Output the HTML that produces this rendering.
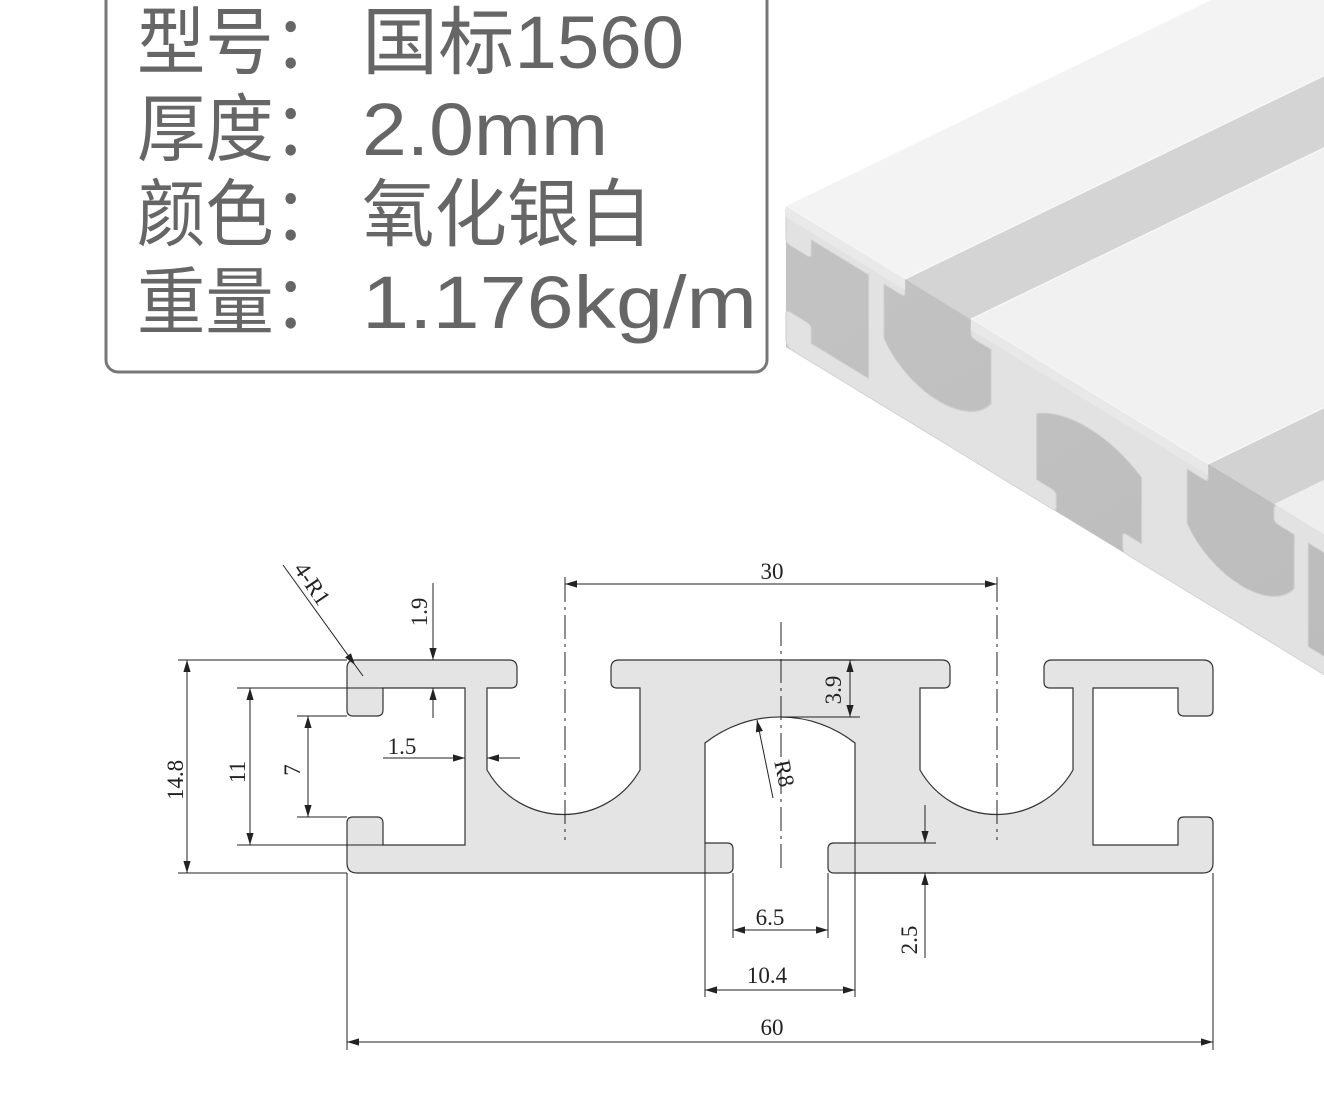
<!DOCTYPE html>
<html><head><meta charset="utf-8"><style>
html,body{margin:0;padding:0;background:#fff;}
svg{display:block;}
</style></head><body>
<svg width="1324" height="1101" viewBox="0 0 1324 1101" xmlns="http://www.w3.org/2000/svg">
<defs>
<path id="prof" d="M347,668 Q347,660 355,660 L509,660 Q517,660 517,668 L517,682 Q517,688 511,688 L487,688 L487,770 A88,88 0 0 0 640,770 L640,688 L617,688 Q611,688 611,682 L611,668 Q611,660 619,660 L942,660 Q950,660 950,668 L950,682 Q950,688 944,688 L920,688 L920,770 A88,88 0 0 0 1073,770 L1073,688 L1050,688 Q1044,688 1044,682 L1044,668 Q1044,660 1052,660 L1203,660 Q1213,660 1213,670 L1213,710 Q1213,716 1207,716 L1184,716 Q1178,716 1178,710 L1178,688 L1093,688 L1093,845 L1178,845 L1178,823 Q1178,817 1184,817 L1207,817 Q1213,817 1213,823 L1213,863 Q1213,873 1203,873 L834,873 Q828,873 828,867 L828,849 Q828,843 834,843 L855,843 L855,743 A121,121 0 0 0 705,743 L705,843 L727,843 Q733,843 733,849 L733,867 Q733,873 727,873 L357,873 Q347,873 347,863 L347,823 Q347,817 353,817 L377,817 Q383,817 383,823 L383,845 L465,845 L465,688 L383,688 L383,710 Q383,716 377,716 L353,716 Q347,716 347,710 Z"/>
<marker id="a" viewBox="0 0 10 10" refX="10" refY="5" markerWidth="12" markerHeight="12" markerUnits="userSpaceOnUse" orient="auto-start-reverse"><path d="M0,2 L10,5 L0,8 Z" fill="#222"/></marker>
<linearGradient id="bg" x1="0" y1="0" x2="1" y2="1">
<stop offset="0" stop-color="#c9c9c9"/><stop offset="1" stop-color="#b4b4b4"/></linearGradient>
</defs>

<!-- text box -->
<rect x="106" y="-20" width="661" height="392" rx="12" fill="#fff" stroke="#777" stroke-width="3"/>
<g font-family="'Liberation Sans','Noto Sans CJK SC',sans-serif" font-size="74" fill="#666">
<text x="137" y="68" textLength="205" lengthAdjust="spacingAndGlyphs">型号：</text>
<text x="362" y="68" textLength="322" lengthAdjust="spacingAndGlyphs">国标1560</text>
<text x="137" y="155" textLength="205" lengthAdjust="spacingAndGlyphs">厚度：</text>
<text x="362" y="155" textLength="246" lengthAdjust="spacingAndGlyphs">2.0mm</text>
<text x="137" y="240" textLength="205" lengthAdjust="spacingAndGlyphs">颜色：</text>
<text x="362" y="240" textLength="290" lengthAdjust="spacingAndGlyphs">氧化银白</text>
<text x="137" y="328" textLength="205" lengthAdjust="spacingAndGlyphs">重量：</text>
<text x="362" y="328" textLength="395" lengthAdjust="spacingAndGlyphs">1.176kg/m</text>
</g>

<!-- 3D render -->
<polygon points="786,206 2286,-521 2892,-11 1392,716 786,347" fill="url(#bg)"/>
<polygon points="905,279 970,319 1970,-166 1905,-206" fill="#d4d4d4"/>
<polygon points="1208,464 1274,504 2274,19 2208,-21" fill="#d2d2d2"/>
<g transform="matrix(0.70,0.427,0,0.66,543.1,-377.8)">
<use href="#prof" fill="#e2e2e2" stroke="#d0d0d0" stroke-width="1.5"/>
</g>
<polygon points="786,206 905,279 1905,-206 1786,-279" fill="#f3f3f3" stroke="#fbfbfb"/>
<polygon points="786,206 905,279 905,290 786,217" fill="#e9e9e9"/>
<polygon points="971,319 1208,464 2208,-21 1971,-166" fill="#f1f1f1" stroke="#fbfbfb"/>
<polygon points="971,319 1208,464 1208,475 971,330" fill="#e8e8e8"/>
<polygon points="1274,504 1392,576 2392,91 2274,19" fill="#eeeeee"/>

<!-- technical drawing -->
<use href="#prof" fill="#e4e4e4" stroke="#333" stroke-width="1.2"/>
<g stroke="#222" stroke-width="1" fill="none">
<g stroke-dasharray="24,5,3,5">
<line x1="565" y1="578" x2="565" y2="840"/>
<line x1="781" y1="622" x2="781" y2="872"/>
<line x1="997" y1="578" x2="997" y2="840"/>
</g>
<line x1="283" y1="565" x2="355" y2="665" marker-end="url(#a)"/>
<line x1="355" y1="665" x2="363" y2="676"/>
<line x1="433" y1="583" x2="433" y2="660" marker-end="url(#a)"/>
<line x1="433" y1="718" x2="433" y2="688" marker-end="url(#a)"/>
<line x1="178" y1="660" x2="347" y2="660"/>
<line x1="178" y1="873" x2="347" y2="873"/>
<line x1="187" y1="660" x2="187" y2="873" marker-start="url(#a)" marker-end="url(#a)"/>
<line x1="237" y1="688" x2="383" y2="688"/>
<line x1="237" y1="845" x2="383" y2="845"/>
<line x1="250" y1="688" x2="250" y2="845" marker-start="url(#a)" marker-end="url(#a)"/>
<line x1="297" y1="716" x2="347" y2="716"/>
<line x1="297" y1="817" x2="347" y2="817"/>
<line x1="308" y1="716" x2="308" y2="817" marker-start="url(#a)" marker-end="url(#a)"/>
<line x1="383" y1="758" x2="465" y2="758" marker-end="url(#a)"/>
<line x1="520" y1="758" x2="487" y2="758" marker-end="url(#a)"/>
<line x1="565" y1="584" x2="997" y2="584" marker-start="url(#a)" marker-end="url(#a)"/>
<line x1="565" y1="577" x2="565" y2="600"/>
<line x1="997" y1="577" x2="997" y2="600"/>
<line x1="800" y1="660" x2="855" y2="660"/>
<line x1="780" y1="717" x2="860" y2="717"/>
<line x1="850" y1="660" x2="850" y2="717" marker-start="url(#a)" marker-end="url(#a)"/>
<line x1="773" y1="798" x2="757" y2="720" marker-end="url(#a)"/>
<line x1="855" y1="843" x2="936" y2="843"/>
<line x1="855" y1="873" x2="936" y2="873"/>
<line x1="925" y1="805" x2="925" y2="843" marker-end="url(#a)"/>
<line x1="925" y1="958" x2="925" y2="873" marker-end="url(#a)"/>
<line x1="733" y1="873" x2="733" y2="938"/>
<line x1="828" y1="873" x2="828" y2="938"/>
<line x1="733" y1="930" x2="828" y2="930" marker-start="url(#a)" marker-end="url(#a)"/>
<line x1="705" y1="843" x2="705" y2="997"/>
<line x1="855" y1="843" x2="855" y2="997"/>
<line x1="705" y1="990" x2="855" y2="990" marker-start="url(#a)" marker-end="url(#a)"/>
<line x1="347" y1="873" x2="347" y2="1050"/>
<line x1="1213" y1="873" x2="1213" y2="1050"/>
<line x1="347" y1="1042" x2="1213" y2="1042" marker-start="url(#a)" marker-end="url(#a)"/>
</g>
<g font-family="'Liberation Serif',serif" font-size="23" fill="#222" text-anchor="middle">
<text transform="translate(306,588) rotate(56)">4-R1</text>
<text transform="translate(427,612) rotate(-90)">1.9</text>
<text transform="translate(183,780) rotate(-90)">14.8</text>
<text transform="translate(245,772) rotate(-90)">11</text>
<text transform="translate(300,770) rotate(-90)">7</text>
<text x="402" y="754">1.5</text>
<text x="772" y="579">30</text>
<text transform="translate(841,690) rotate(-90)">3.9</text>
<text transform="translate(777,775) rotate(78)">R8</text>
<text transform="translate(917,940) rotate(-90)">2.5</text>
<text x="770" y="925">6.5</text>
<text x="767" y="983">10.4</text>
<text x="772" y="1035">60</text>
</g>
</svg>
</body></html>
